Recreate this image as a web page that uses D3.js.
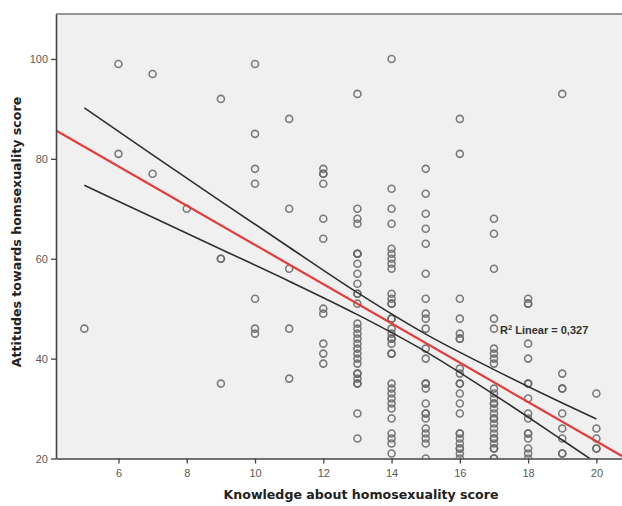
<!DOCTYPE html>
<html>
<head>
<meta charset="utf-8">
<script src="https://cdn.jsdelivr.net/npm/d3@7"></script>
<style>
  body { margin: 0; background: #fff; }
  svg { display: block; }
</style>
</head>
<body>
<figure id="scatter" style="margin:0"></figure>
<script>
// knowledge score (x) and the attitude scores observed at each knowledge score
const knowledge = [5, 6, 7, 8, 9, 10, 11, 12, 13, 14, 15, 16, 17, 18, 19, 20];
const attitudes = [
  [46],
  [99, 81],
  [97, 77],
  [70],
  [92, 60, 60, 35],
  [99, 85, 78, 75, 52, 46, 45],
  [88, 70, 58, 46, 36],
  [78, 77, 77, 75, 68, 64, 50, 49, 43, 41, 39],
  [93, 70, 68, 67, 61, 61, 61, 59, 57, 55, 53, 53, 51, 47, 46, 45, 44, 43, 42, 41, 40, 39, 37, 37, 36, 35, 35, 29, 24],
  [100, 74, 70, 67, 62, 61, 60, 59, 58, 53, 52, 51, 51, 48, 48, 46, 45, 44, 44, 43, 41, 41, 35, 34, 33, 32, 31, 30, 28, 25, 24, 23, 21],
  [78, 73, 69, 66, 63, 57, 52, 49, 48, 46, 42, 40, 35, 35, 34, 31, 29, 29, 28, 26, 25, 24, 23, 20],
  [88, 81, 52, 48, 45, 44, 44, 38, 37, 35, 35, 33, 31, 29, 25, 25, 24, 23, 22, 22, 21, 20],
  [68, 65, 58, 48, 46, 42, 41, 40, 39, 34, 33, 32, 31, 31, 30, 29, 28, 28, 27, 26, 25, 24, 24, 23, 22, 22, 20, 20],
  [52, 51, 51, 43, 40, 35, 35, 32, 29, 28, 25, 25, 24, 22, 21, 20],
  [93, 37, 34, 34, 29, 26, 24, 21, 21],
  [33, 26, 24, 22, 22]
];

// fit line (total) and 95% mean confidence band
const fitX = [4.17, 20.75];
const fitY = [85.7, 20.5];
const ciX = [5, 7, 9, 11, 13, 15, 17, 19, 20];
const ciUpper = [90.2, 80.8, 71.5, 62.3, 53.2, 44.9, 37.8, 31.1, 27.9];
const ciLower = [74.7, 68.3, 61.9, 55.5, 48.8, 41.4, 32.8, 23.7, 19.1];

const xTicks = [6, 8, 10, 12, 14, 16, 18, 20];
const yTicks = [20, 40, 60, 80, 100];
const r2Label = "Linear = 0,327";

const width = 622;
const height = 506;
const plotLeft = 56, plotRight = 622, plotTop = 14, plotBottom = 458.5;

const svg = d3.select("figure#scatter")
  .append("svg")
  .attr("width", width)
  .attr("height", height);

const x = d3.scaleLinear().domain([4.17, 20.75]).range([plotLeft, plotRight]);
const y = d3.scaleLinear().domain([20, 109]).range([plotBottom, plotTop]);

// plot background
svg.append("rect")
  .attr("x", plotLeft)
  .attr("y", plotTop)
  .attr("width", plotRight - plotLeft)
  .attr("height", plotBottom - plotTop)
  .attr("fill", "#f0f0f0");

svg.append("clipPath")
  .attr("id", "plotclip")
  .append("rect")
  .attr("x", plotLeft)
  .attr("y", plotTop)
  .attr("width", plotRight - plotLeft)
  .attr("height", plotBottom - plotTop);

// points
const points = [];
knowledge.forEach((k, i) => attitudes[i].forEach(a => points.push({k: k, a: a})));

const plot = svg.append("g").attr("clip-path", "url(#plotclip)");

plot.selectAll("circle")
  .data(points)
  .enter()
  .append("circle")
  .attr("cx", d => x(d.k))
  .attr("cy", d => y(d.a))
  .attr("r", 3.5)
  .attr("fill", "none")
  .attr("stroke", "#666")
  .attr("stroke-opacity", 0.85)
  .attr("stroke-width", 1.6);

// confidence band
const band = d3.line()
  .x(d => x(d[0]))
  .y(d => y(d[1]))
  .curve(d3.curveMonotoneX);

[ciUpper, ciLower].forEach(vals => {
  plot.append("path")
    .attr("d", band(ciX.map((v, i) => [v, vals[i]])))
    .attr("fill", "none")
    .attr("stroke", "#2f2f2f")
    .attr("stroke-width", 1.6);
});

// fit line
plot.append("path")
  .attr("d", d3.line().x(d => x(d[0])).y(d => y(d[1]))(fitX.map((v, i) => [v, fitY[i]])))
  .attr("fill", "none")
  .attr("stroke", "#e63a3a")
  .attr("stroke-width", 2.2);

// top frame line
svg.append("line")
  .attr("x1", plotLeft).attr("x2", plotRight)
  .attr("y1", plotTop).attr("y2", plotTop)
  .attr("stroke", "#777")
  .attr("stroke-width", 1.5);

// axes
const xAxis = svg.append("g")
  .attr("transform", "translate(0," + plotBottom + ")")
  .call(d3.axisBottom(x).tickValues(xTicks).tickSize(5).tickSizeOuter(0).tickPadding(6));

const yAxis = svg.append("g")
  .attr("transform", "translate(" + plotLeft + ",0)")
  .call(d3.axisLeft(y).tickValues(yTicks).tickSize(5).tickSizeOuter(0).tickPadding(3));

[xAxis, yAxis].forEach(g => {
  g.select(".domain").attr("stroke", "#444").attr("stroke-width", 1.6);
  g.selectAll(".tick line").attr("stroke", "#444").attr("stroke-width", 1.3);
  g.selectAll(".tick text")
    .attr("fill", "#5a5a5a")
    .style("font-family", "'Liberation Sans', Arial, sans-serif")
    .style("font-size", "11px");
});

// axis titles
svg.append("text")
  .attr("x", 361)
  .attr("y", 499)
  .attr("text-anchor", "middle")
  .style("font-family", "'DejaVu Sans', sans-serif")
  .style("font-weight", "bold")
  .style("font-size", "12.6px")
  .attr("fill", "#222")
  .text("Knowledge about homosexuality score");

svg.append("text")
  .attr("transform", "translate(21,232) rotate(-90)")
  .attr("text-anchor", "middle")
  .style("font-family", "'DejaVu Sans', sans-serif")
  .style("font-weight", "bold")
  .style("font-size", "12.6px")
  .attr("fill", "#222")
  .text("Attitudes towards homsexuality score");

// R squared label
const r2 = svg.append("text")
  .attr("x", 500)
  .attr("y", 334)
  .style("font-family", "'Liberation Sans', Arial, sans-serif")
  .style("font-weight", "bold")
  .style("font-size", "11px")
  .attr("fill", "#333");
r2.append("tspan").text("R");
r2.append("tspan").attr("dy", -4).style("font-size", "7.5px").text("2");
r2.append("tspan").attr("dy", 4).text(" " + r2Label);
</script>
</body>
</html>
